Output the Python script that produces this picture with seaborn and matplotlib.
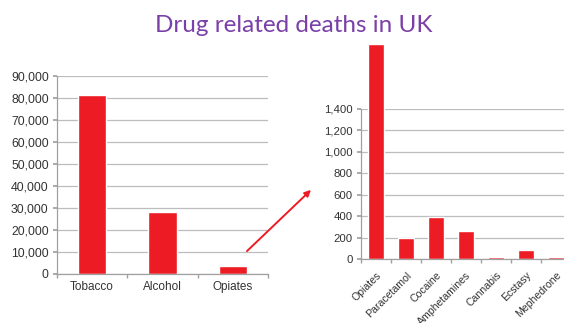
import numpy as np
import pandas as pd
import matplotlib
matplotlib.use("Agg")
import matplotlib.pyplot as plt
from matplotlib.ticker import FuncFormatter, FixedLocator
import seaborn as sns

# ── Data ─────────────────────────────────────────────────────────
left_cats  = ["Tobacco", "Alcohol", "Opiates"]
left_vals  = [81500, 28000, 3800]

right_cats = ["Opiates", "Paracetamol", "Cocaine", "Amphetamines",
              "Cannabis", "Ecstasy", "Mephedrone"]
right_vals = [2010, 200, 390, 265, 15, 82, 15]

TITLE     = "Drug related deaths in UK"
BAR_COL   = "#ED1C24"
GRID_COL  = "#BDBDBD"
TEXT_COL  = "#333333"
TITLE_COL = "#7B3FA8"

sns.set_theme(style="white")
plt.rcParams["font.family"] = ["Liberation Sans", "DejaVu Sans"]

W, H = 564, 323
fig = plt.figure(figsize=(W / 100, H / 100), dpi=100)


def px_axes(x0, x1, ytop, ybot):
    return fig.add_axes([x0 / W, 1 - ybot / H, (x1 - x0) / W, (ybot - ytop) / H])


def style_axes(ax, ncat, fs, xfs, xpad):
    ax.set_xlabel("")
    ax.set_ylabel("")
    ax.grid(True, axis="y", color=GRID_COL, linewidth=0.9)
    ax.set_axisbelow(True)
    for s in ["top", "right"]:
        ax.spines[s].set_visible(False)
    for s in ["left", "bottom"]:
        ax.spines[s].set_color("#A0A0A0")
        ax.spines[s].set_linewidth(0.9)
    ax.set_xlim(-0.5, ncat - 0.5)
    ax.xaxis.set_minor_locator(FixedLocator(np.arange(-0.5, ncat, 1.0)))
    ax.tick_params(axis="x", which="major", length=0, labelsize=xfs, colors=TEXT_COL, pad=xpad)
    ax.tick_params(axis="x", which="minor", length=3, color="#A0A0A0", bottom=True)
    ax.tick_params(axis="y", length=3, color="#A0A0A0", labelsize=fs, colors=TEXT_COL, pad=3, left=True)
    ax.yaxis.set_major_formatter(FuncFormatter(lambda v, p: f"{int(v):,}"))


# ── Left chart ───────────────────────────────────────────────────
ax1 = px_axes(57, 268, 76, 274)
df1 = pd.DataFrame({"cat": left_cats, "val": left_vals})
sns.barplot(data=df1, x="cat", y="val", color=BAR_COL, saturation=1,
            width=0.4, ax=ax1)
ax1.set_ylim(0, 90000)
ax1.set_yticks(np.arange(0, 90001, 10000))
style_axes(ax1, len(left_cats), 8.8, 8.5, 5)

# ── Right chart ──────────────────────────────────────────────────
ax2 = px_axes(361, 571, 109, 259)
df2 = pd.DataFrame({"cat": right_cats, "val": right_vals})
sns.barplot(data=df2, x="cat", y="val", color=BAR_COL, saturation=1,
            width=0.55, ax=ax2)
ax2.set_ylim(0, 1400)
ax2.set_yticks(np.arange(0, 1401, 200))
for p in ax2.patches:
    p.set_clip_on(False)
style_axes(ax2, len(right_cats), 8.2, 7.6, 8)
plt.setp(ax2.get_xticklabels(), rotation=45, ha="right", rotation_mode="anchor")

# ── Arrow and title ──────────────────────────────────────────────
fig.add_artist(matplotlib.patches.FancyArrowPatch(
    (245 / W, 1 - 253 / H), (313 / W, 1 - 188 / H),
    transform=fig.transFigure, arrowstyle="-|>", mutation_scale=9,
    color=BAR_COL, linewidth=1.4))

fig.text(0.52, 1 - 25 / H, TITLE, ha="center", va="center",
         fontsize=17.5, color=TITLE_COL, family=["Lato", "DejaVu Sans"])

fig.savefig("out.png", dpi=100)
